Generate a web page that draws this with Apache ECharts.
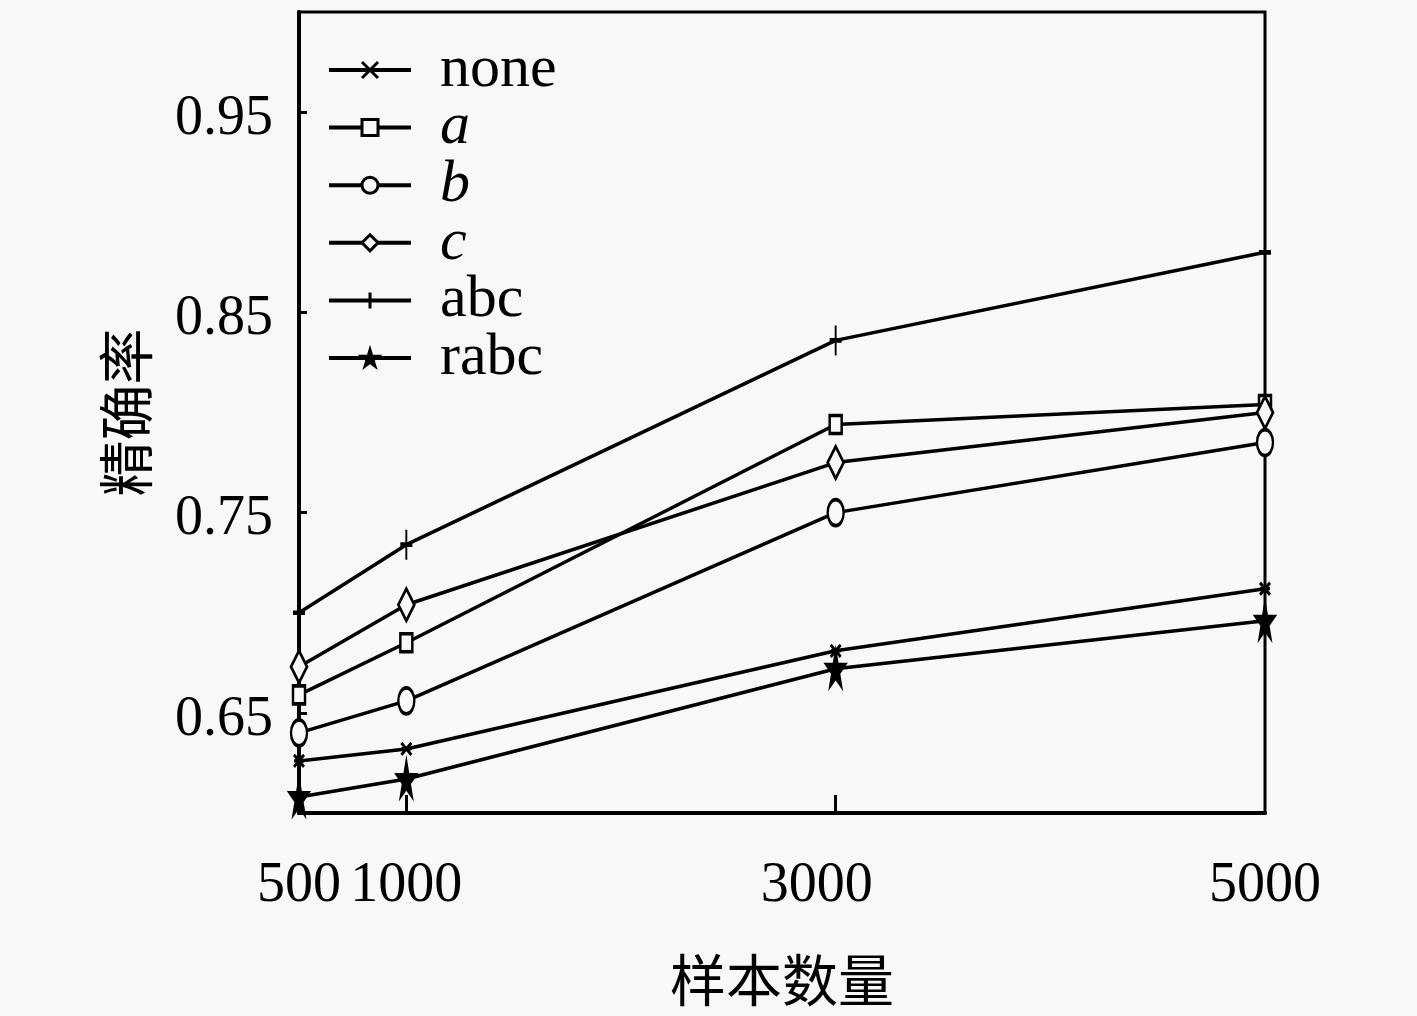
<!DOCTYPE html>
<html>
<head>
<meta charset="utf-8">
<script src="https://cdn.jsdelivr.net/npm/echarts@6/dist/echarts.min.js"></script>
<style>
html,body{margin:0;padding:0;background:#f8f8f8;}
#chart{width:1417px;height:1016px;}
</style>
</head>
<body>
<div id="chart"></div>
<script>
const sampleSizes = [500, 1000, 3000, 5000];
const noneValues = [0.626, 0.632, 0.681, 0.712];
const aValues = [0.659, 0.685, 0.794, 0.804];
const bValues = [0.640, 0.656, 0.750, 0.785];
const cValues = [0.673, 0.704, 0.775, 0.800];
const abcValues = [0.700, 0.734, 0.836, 0.880];
const rabcValues = [0.608, 0.617, 0.672, 0.696];
const seriesNames = ['none', 'a', 'b', 'c', 'abc', 'rabc'];
const yTickValues = [0.65, 0.75, 0.85, 0.95];
const xTickLabels = [500, 1000, 3000, 5000];
const xInnerTicks = [1000, 3000];

const BG = '#f8f8f8';
const LATIN = '"Liberation Serif", "Noto Sans CJK SC", serif';
const CJK = '"Noto Sans CJK SC", sans-serif';

const markerDefs = {
  none: { symbol: 'path://M0 0L10 12M10 0L0 12M0 6L10 6', size: [10, 12], fill: '#000' },
  a: { symbol: 'rect', size: [12, 18], fill: BG },
  b: { symbol: 'path://M0 13A5 13 0 1 0 10 13A5 13 0 1 0 0 13Z', size: [16, 26], fill: BG },
  c: { symbol: 'diamond', size: [16, 32], fill: BG },
  abc: { symbol: 'path://M5 0L5 30M0 15L10 15', size: [12, 30], fill: '#000' },
  rabc: { symbol: 'path://M50 0L61 35L98 35L68 57L79 91L50 70L21 91L32 57L2 35L39 35Z', size: [18, 34], fill: '#000' }
};
const valueLists = { none: noneValues, a: aValues, b: bValues, c: cValues, abc: abcValues, rabc: rabcValues };

const series = seriesNames.map(name => {
  const m = markerDefs[name];
  return {
    name: name,
    type: 'line',
    data: sampleSizes.map((x, i) => [x, valueLists[name][i]]),
    symbol: m.symbol,
    symbolSize: m.size,
    showAllSymbol: true,
    lineStyle: { color: '#000', width: 3.5 },
    itemStyle: { color: m.fill, borderColor: '#000', borderWidth: 3, opacity: 1 },
    emphasis: { disabled: true },
    z: 3
  };
});

const chart = echarts.init(document.getElementById('chart'));
chart.setOption({
  backgroundColor: BG,
  animation: false,
  grid: {
    left: 299, top: 12, right: 152, bottom: 203,
    show: true, borderColor: '#000', borderWidth: 3, backgroundColor: 'transparent'
  },
  legend: {
    orient: 'vertical',
    left: 322,
    top: 35,
    itemWidth: 82,
    itemHeight: 20,
    itemGap: -2.4,
    lineStyle: { color: '#000', width: 4 },
    itemStyle: { borderColor: '#000', borderWidth: 3 },
    data: seriesNames.map(n => ({
      name: n,
      textStyle: { fontStyle: (n === 'a' || n === 'b' || n === 'c') ? 'italic' : 'normal' }
    })),
    textStyle: {
      fontFamily: LATIN, fontSize: 60, color: '#000',
      padding: [0, 0, 0, 24]
    }
  },
  xAxis: {
    type: 'value',
    min: 500,
    max: 5000,
    name: '样本数量',
    nameLocation: 'middle',
    nameGap: 139,
    nameTextStyle: { fontFamily: CJK, fontSize: 56, color: '#000' },
    splitLine: { show: false },
    axisLine: { show: true, lineStyle: { color: '#000', width: 4 } },
    axisTick: { show: true, inside: true, length: 18, customValues: xInnerTicks, lineStyle: { color: '#000', width: 3 } },
    axisLabel: {
      customValues: xTickLabels,
      margin: 45,
      fontFamily: LATIN, fontSize: 56, color: '#000',
      formatter: v => v === 3000 ? '{shift|' + v + '}' : String(v),
      rich: {
        shift: { fontFamily: LATIN, fontSize: 56, color: '#000', padding: [0, 38, 0, 0] }
      }
    }
  },
  yAxis: {
    type: 'value',
    min: 0.6,
    max: 1.0,
    name: '精确率',
    nameLocation: 'middle',
    nameGap: 145,
    nameRotate: 90,
    nameTextStyle: { fontFamily: CJK, fontSize: 56, color: '#000' },
    splitLine: { show: false },
    axisLine: { show: true, lineStyle: { color: '#000', width: 4 } },
    axisTick: { show: true, inside: true, length: 8, customValues: yTickValues, lineStyle: { color: '#000', width: 3 } },
    axisLabel: {
      customValues: yTickValues,
      margin: 26,
      fontFamily: LATIN, fontSize: 56, color: '#000',
      formatter: v => '{lab|' + v.toFixed(2) + '}',
      rich: {
        lab: { fontFamily: LATIN, fontSize: 56, color: '#000', padding: [14, 0, 0, 0] }
      }
    }
  },
  series: series
});
</script>
</body>
</html>
